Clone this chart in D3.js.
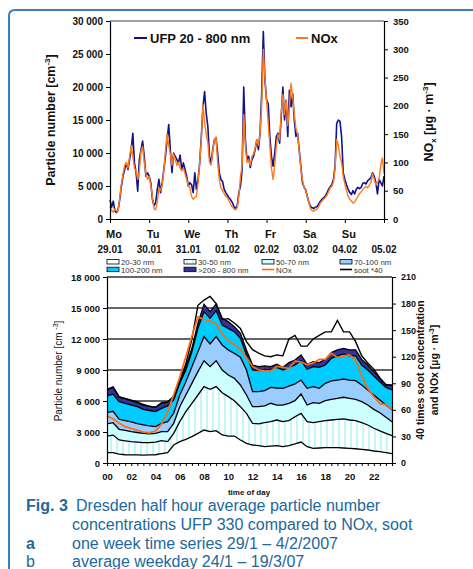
<!DOCTYPE html>
<html>
<head>
<meta charset="utf-8">
<script src="https://cdn.jsdelivr.net/npm/d3@7"></script>
<style>
  body { margin: 0; background: #fff; }
  text { font-family: "Liberation Sans", Arial, sans-serif; }
</style>
</head>
<body>
<svg id="chart"></svg>
<script>
// ---- data: (a) one week, hourly values ----
const dayNames = ["Mo", "Tu", "We", "Th", "Fr", "Sa", "Su"];
const dayDates = ["29.01", "30.01", "31.01", "01.02", "02.02", "03.02", "04.02", "05.02"];

const ufpWeek = [
  2900, 1800, 2700, 1200, 1000, 1400, 3000, 5000, 6500, 7500, 8500, 7500, 9000, 10500, 13000, 8500, 7000, 4200, 9000, 10500, 11800, 9500, 6500, 7000,
  6500, 5500, 3000, 2000, 2500, 4500, 6000, 4000, 5500, 7500, 9500, 12000, 14300, 10500, 7000, 10000, 9500, 9000, 8500, 9700, 7500, 8500, 7500, 6500,
  5000, 5500, 5200, 4000, 7000, 4500, 6000, 8500, 12500, 17000, 19300, 16000, 14000, 9500, 8500, 10500, 12000, 12300, 10000, 7000, 6000, 5700, 4500, 4000,
  3600, 3200, 2900, 2500, 1900, 1600, 2000, 4000, 5000, 7500, 20000, 12000, 9000, 9500, 7800, 9000, 9500, 10500, 12000, 10500, 13000, 19000, 28400, 21000,
  18000, 17500, 12500, 9500, 8000, 10000, 12500, 13000, 11500, 15500, 20000, 15000, 18000, 12500, 19500, 17000, 19000, 15000, 12500, 13000, 10500, 8000, 5500, 4800,
  4400, 3400, 2500, 1900, 1700, 1600, 1800, 1900, 2300, 2700, 3000, 3200, 3500, 3900, 4500, 4900, 5200, 6000, 8000, 14500, 15000, 14800, 12500, 7000,
  6000, 5200, 4500, 4000, 3700, 4300, 3800, 4500, 4800, 4600, 4800, 5400, 5500, 5300, 5800, 6000, 6300, 7000, 6500, 5500, 3800, 6000, 5500, 5000,
  6500
];

const noxWeek = [
  22, 15, 12, 18, 14, 15, 38, 62, 80, 95, 100, 90, 110, 130, 110, 90, 85, 70, 85, 120, 128, 100, 80, 70,
  75, 60, 40, 18, 16, 30, 55, 50, 60, 85, 120, 150, 130, 115, 95, 115, 105, 95, 100, 90, 85, 90, 80, 70,
  60, 55, 40, 35, 38, 40, 65, 100, 140, 203, 170, 150, 135, 100, 95, 120, 140, 145, 100, 70, 55, 50, 45, 40,
  38, 32, 26, 21, 18, 16, 20, 40, 75, 95, 185, 130, 100, 105, 95, 110, 115, 125, 140, 130, 150, 200, 300, 250,
  210, 170, 130, 90, 70, 95, 130, 150, 140, 190, 220, 185, 210, 165, 200, 240, 215, 185, 160, 150, 120, 90, 70, 55,
  50, 40, 28, 18, 15, 14, 16, 18, 22, 28, 32, 35, 38, 42, 48, 55, 58, 65, 90, 140, 130, 110, 100, 75,
  62, 50, 40, 35, 32, 28, 30, 35, 40, 45, 48, 52, 55, 58, 55, 60, 65, 80, 70, 60, 65, 70, 95, 108,
  80
];

// ---- data: (b) average weekday, 48 half hours ----
const size20_30 = [1000, 1000, 850, 800, 780, 780, 770, 780, 800, 900, 1000, 1740, 2070, 2290, 2550, 2870, 3190, 3030, 3130, 2710, 2610, 2610, 2230, 1900,
  1740, 1680, 1580, 1640, 1680, 1580, 1680, 1840, 2030, 1580, 1420, 1450, 1480, 1480, 1480, 1450, 1420, 1380, 1320, 1260, 1160, 1100, 1000, 900];
const size30_50 = [1600, 1700, 1380, 1350, 1290, 1240, 1200, 1190, 1220, 1260, 1070, 1130, 1930, 2680, 3230, 3710, 4200, 4100, 4260, 4090, 3810, 3420, 3220, 2900,
  2100, 2100, 2320, 2360, 2480, 2420, 2420, 2640, 2770, 2420, 2480, 2550, 2620, 2680, 2750, 2810, 2740, 2720, 2580, 2420, 2200, 2000, 1870, 1750];
const size50_70 = [1180, 1200, 1030, 1000, 960, 930, 900, 850, 850, 870, 960, 970, 1450, 1610, 1930, 2260, 2510, 2190, 2510, 2200, 2100, 2160, 2100, 1780,
  1610, 1670, 1620, 1780, 1440, 1610, 1680, 1550, 1880, 1610, 1940, 1780, 1930, 2000, 2030, 2100, 2100, 2060, 2040, 1930, 1830, 1770, 1550, 1350];
const size70_100 = [1100, 1100, 970, 950, 940, 870, 810, 780, 650, 810, 970, 970, 1130, 1290, 1610, 1930, 2330, 2200, 2330, 2420, 2420, 2420, 2680, 2420,
  1450, 1450, 1480, 1540, 1660, 1620, 1670, 1620, 1350, 1620, 1550, 1450, 1680, 1780, 1770, 1770, 1770, 1810, 1610, 1460, 1390, 1230, 1190, 1130];
const size100_200 = [1620, 1660, 1700, 1680, 1640, 1630, 1510, 1480, 1450, 1450, 1520, 1290, 1130, 1130, 1450, 2260, 2420, 2480, 2510, 1940, 2090, 2100, 1840, 1450,
  2100, 2040, 2000, 1750, 2000, 1770, 1810, 1830, 1870, 1840, 1930, 2030, 1770, 2190, 2330, 2420, 2330, 2390, 1930, 1930, 1840, 1770, 1710, 1940];
const size200_800 = [570, 660, 420, 420, 420, 400, 420, 400, 420, 490, 380, 300, 240, 300, 330, 490, 710, 650, 650, 640, 650, 480, 480, 490,
  480, 380, 390, 250, 290, 230, 450, 490, 550, 480, 480, 450, 550, 550, 580, 550, 580, 580, 550, 480, 420, 320, 290, 410];
const noxDay = [53, 50, 45, 41, 39, 37, 35, 34, 36, 44, 58, 77, 97, 120, 143, 165, 162, 160, 157, 146, 138, 134, 128, 119,
  109, 105, 104, 104, 109, 108, 107, 115, 114, 111, 113, 117, 117, 124, 119, 121, 122, 116, 98, 84, 75, 67, 66, 60];
const soot40 = [83, 86, 75, 73, 71, 69, 66, 64, 63, 68, 69, 75, 93, 112, 140, 178, 184, 188, 180, 162, 163, 158, 152, 137,
  128, 124, 121, 120, 122, 121, 140, 144, 132, 132, 140, 144, 148, 148, 161, 148, 148, 137, 121, 113, 106, 96, 88, 88];

const fmt = v => d3.format(",")(v).replace(/,/g, " ");

const svg = d3.select("#chart").attr("width", 473).attr("height", 569);

// blue frame
svg.append("path")
  .attr("d", "M473,10 H15 Q9,10 9,16 V569")
  .attr("fill", "none").attr("stroke", "#3a7fb8").attr("stroke-width", 2);

// ================= chart a =================
const xA = d3.scaleLinear().domain([0, 7]).range([110, 384]);
const yA = d3.scaleLinear().domain([0, 30000]).range([219, 21]);
const yAR = d3.scaleLinear().domain([0, 350]).range([219, 21]);

svg.append("line").attr("x1", 110).attr("x2", 384).attr("y1", 21).attr("y2", 21)
  .attr("stroke", "#808080").attr("stroke-width", 1.5);

const lineUfp = d3.line().x((d, i) => xA(i / 24)).y(d => yA(d));
const lineNox = d3.line().x((d, i) => xA(i / 24)).y(d => yAR(d));

svg.append("path").datum(ufpWeek).attr("d", lineUfp)
  .attr("fill", "none").attr("stroke", "#12128a").attr("stroke-width", 1.6).attr("stroke-linejoin", "round");
svg.append("path").datum(noxWeek).attr("d", lineNox)
  .attr("fill", "none").attr("stroke", "#ff7a1c").attr("stroke-width", 1.4).attr("stroke-linejoin", "round");

function styleAxis(g, size) {
  g.selectAll("path.domain").attr("stroke", "#000").attr("stroke-width", 1.2);
  g.selectAll(".tick line").attr("stroke", "#000");
  g.selectAll("text").attr("font-weight", "bold").attr("font-size", size).attr("fill", "#111")
    .attr("font-family", "'Liberation Sans', Arial, sans-serif");
}

svg.append("g").attr("transform", "translate(110,0)")
  .call(d3.axisLeft(yA).tickValues(d3.range(0, 30001, 5000)).tickSize(4).tickSizeOuter(0).tickPadding(3).tickFormat(fmt))
  .call(g => styleAxis(g, 10));
svg.append("g").attr("transform", "translate(384,0)")
  .call(d3.axisRight(yAR).tickValues(d3.range(0, 351, 50)).tickSize(4).tickSizeOuter(0).tickPadding(5))
  .call(g => styleAxis(g, 9.5));
svg.append("g").attr("transform", "translate(0,219)")
  .call(d3.axisBottom(xA).tickValues(d3.range(0, 8)).tickSize(4).tickSizeOuter(0).tickFormat(""))
  .call(g => styleAxis(g, 9));

svg.append("g").selectAll("text").data(dayNames).enter().append("text")
  .attr("x", (d, i) => xA(i) + 4).attr("y", 238).attr("text-anchor", "middle")
  .attr("font-weight", "bold").attr("font-size", 11).attr("fill", "#111").text(d => d);
svg.append("g").selectAll("text").data(dayDates).enter().append("text")
  .attr("x", (d, i) => xA(i)).attr("y", 253).attr("text-anchor", "middle")
  .attr("font-weight", "bold").attr("font-size", 10).attr("fill", "#111").text(d => d);

// axis titles a
const tA = svg.append("text").attr("transform", "translate(55,120) rotate(-90)")
  .attr("text-anchor", "middle").attr("font-weight", "bold").attr("font-size", 12.5).attr("fill", "#111");
tA.append("tspan").text("Particle number [cm");
tA.append("tspan").attr("font-size", 8).attr("dy", -5).text("-3");
tA.append("tspan").attr("dy", 5).text("]");

const tAR = svg.append("text").attr("transform", "translate(433,122) rotate(-90)")
  .attr("text-anchor", "middle").attr("font-weight", "bold").attr("font-size", 12.5).attr("fill", "#111");
tAR.append("tspan").text("NO");
tAR.append("tspan").attr("font-size", 8).attr("dy", 3).text("x");
tAR.append("tspan").attr("dy", -3).text("  [µg · m");
tAR.append("tspan").attr("font-size", 8).attr("dy", -5).text("-3");
tAR.append("tspan").attr("dy", 5).text("]");

// legend a
svg.append("line").attr("x1", 134).attr("x2", 147).attr("y1", 38).attr("y2", 38)
  .attr("stroke", "#12128a").attr("stroke-width", 2);
svg.append("text").attr("x", 150).attr("y", 43).attr("font-weight", "bold").attr("font-size", 13)
  .attr("fill", "#111").text("UFP 20 - 800 nm");
svg.append("line").attr("x1", 296).attr("x2", 308).attr("y1", 38).attr("y2", 38)
  .attr("stroke", "#ff7a1c").attr("stroke-width", 2);
svg.append("text").attr("x", 311).attr("y", 43).attr("font-weight", "bold").attr("font-size", 13)
  .attr("fill", "#111").text("NOx");

// ================= chart b =================
const xB = d3.scaleLinear().domain([0, 47]).range([107, 392]);
const yB = d3.scaleLinear().domain([0, 18000]).range([463, 277]);
const yBR = d3.scaleLinear().domain([0, 210]).range([463, 277]);

const defs = svg.append("defs");
const pat = defs.append("pattern").attr("id", "stripes").attr("patternUnits", "userSpaceOnUse")
  .attr("width", 6).attr("height", 10).attr("x", 107);
pat.append("rect").attr("width", 6).attr("height", 10).attr("fill", "#fff");
pat.append("rect").attr("x", 3).attr("width", 2).attr("height", 10).attr("fill", "#bff7fb");

// gridlines
svg.append("g").selectAll("line").data(d3.range(3000, 18001, 3000)).enter().append("line")
  .attr("x1", 107).attr("x2", 392).attr("y1", d => yB(d)).attr("y2", d => yB(d))
  .attr("stroke", "#333").attr("stroke-width", 1.3);

const keys = ["s20_30", "s30_50", "s50_70", "s70_100", "s100_200", "s200_800"];
const fills = ["#ffffff", "url(#stripes)", "#ccffff", "#99ccff", "#00ccff", "#333399"];
const rows = size20_30.map((v, i) => ({
  s20_30: v, s30_50: size30_50[i], s50_70: size50_70[i],
  s70_100: size70_100[i], s100_200: size100_200[i], s200_800: size200_800[i]
}));
const stacked = d3.stack().keys(keys)(rows);

const area = d3.area().x((d, i) => xB(i)).y0(d => yB(d[0])).y1(d => yB(d[1]));
const topLine = d3.line().x((d, i) => xB(i)).y(d => yB(d[1]));

svg.append("g").selectAll("path").data(stacked).enter().append("path")
  .attr("d", area).attr("fill", (d, i) => fills[i]);
svg.append("g").selectAll("path").data(stacked).enter().append("path")
  .attr("d", topLine).attr("fill", "none").attr("stroke", "#000").attr("stroke-width", 1.3);

const lineB = d3.line().x((d, i) => xB(i)).y(d => yBR(d));
svg.append("path").datum(soot40).attr("d", lineB)
  .attr("fill", "none").attr("stroke", "#000").attr("stroke-width", 1.4);
svg.append("path").datum(noxDay).attr("d", lineB)
  .attr("fill", "none").attr("stroke", "#ff6a10").attr("stroke-width", 1.7);

svg.append("g").attr("transform", "translate(107,0)")
  .call(d3.axisLeft(yB).tickValues(d3.range(0, 18001, 3000)).tickSize(4).tickSizeOuter(0).tickPadding(3).tickFormat(fmt))
  .call(g => styleAxis(g, 9.5));
svg.append("g").attr("transform", "translate(392,0)")
  .call(d3.axisRight(yBR).tickValues(d3.range(0, 211, 30)).tickSize(4).tickSizeOuter(0).tickPadding(5))
  .call(g => styleAxis(g, 9));
svg.append("g").attr("transform", "translate(0,463)")
  .call(d3.axisBottom(xB).tickValues(d3.range(0, 48)).tickSize(3).tickSizeOuter(0).tickPadding(7)
    .tickFormat(d => d % 4 === 0 ? String(d / 2).padStart(2, "0") : ""))
  .call(g => styleAxis(g, 9.5));

svg.append("text").attr("x", 249).attr("y", 495).attr("text-anchor", "middle")
  .attr("font-weight", "bold").attr("font-size", 8).attr("fill", "#111").text("time of day");

const tB = svg.append("text").attr("transform", "translate(62,371) rotate(-90)")
  .attr("text-anchor", "middle").attr("font-size", 10).attr("fill", "#111");
tB.append("tspan").text("Particle number [cm ");
tB.append("tspan").attr("font-size", 7).attr("dy", -4).text("-3");
tB.append("tspan").attr("dy", 4).text("]");

svg.append("text").attr("transform", "translate(424,370) rotate(-90)")
  .attr("text-anchor", "middle").attr("font-weight", "bold").attr("font-size", 10.5).attr("fill", "#111")
  .text("40 times soot concentration");
const tBR = svg.append("text").attr("transform", "translate(438,370) rotate(-90)")
  .attr("text-anchor", "middle").attr("font-weight", "bold").attr("font-size", 10.5).attr("fill", "#111");
tBR.append("tspan").text("and NOx [µg · m");
tBR.append("tspan").attr("font-size", 7).attr("dy", -4).text("-3");
tBR.append("tspan").attr("dy", 4).text("]");

// legend b
const legendItems = [
  { label: "20-30 nm", fill: "#ffffff", col: 0, row: 0 },
  { label: "30-50 nm", fill: "url(#stripes)", col: 1, row: 0 },
  { label: "50-70 nm", fill: "#ccffff", col: 2, row: 0 },
  { label: "70-100 nm", fill: "#99ccff", col: 3, row: 0 },
  { label: "100-200 nm", fill: "#00ccff", col: 0, row: 1 },
  { label: ">200 - 800 nm", fill: "#333399", col: 1, row: 1 },
  { label: "NOx", line: "#ff6a10", col: 2, row: 1 },
  { label: "soot *40", line: "#000", col: 3, row: 1 }
];
const legCols = [107, 184, 262, 340];
const lg = svg.append("g").selectAll("g").data(legendItems).enter().append("g")
  .attr("transform", d => `translate(${legCols[d.col]},${259.5 + d.row * 7.7})`);
lg.filter(d => d.fill).append("rect").attr("width", 12).attr("height", 4.5)
  .attr("fill", d => d.fill).attr("stroke", "#000").attr("stroke-width", 0.8);
lg.filter(d => d.line).append("line").attr("x1", 0).attr("x2", 12).attr("y1", 2.3).attr("y2", 2.3)
  .attr("stroke", d => d.line).attr("stroke-width", 1.6);
lg.append("text").attr("x", 14).attr("y", 5.3).attr("font-size", 7.8).attr("fill", "#333").text(d => d.label);

// ================= caption =================
const capColor = "#21689c";
const cap = svg.append("g").attr("fill", capColor).attr("font-size", 16);
cap.append("text").attr("x", 26).attr("y", 511).attr("font-weight", "bold").text("Fig. 3");
cap.append("text").attr("x", 76).attr("y", 511).text("Dresden half hour average particle number");
cap.append("text").attr("x", 72).attr("y", 530).text("concentrations UFP 330 compared to NOx, soot");
cap.append("text").attr("x", 26).attr("y", 549).attr("font-weight", "bold").text("a");
cap.append("text").attr("x", 72).attr("y", 549).text("one week time series 29/1 – 4/2/2007");
cap.append("text").attr("x", 26).attr("y", 567).text("b");
cap.append("text").attr("x", 72).attr("y", 567).text("average weekday 24/1 – 19/3/07");
</script>
</body>
</html>
